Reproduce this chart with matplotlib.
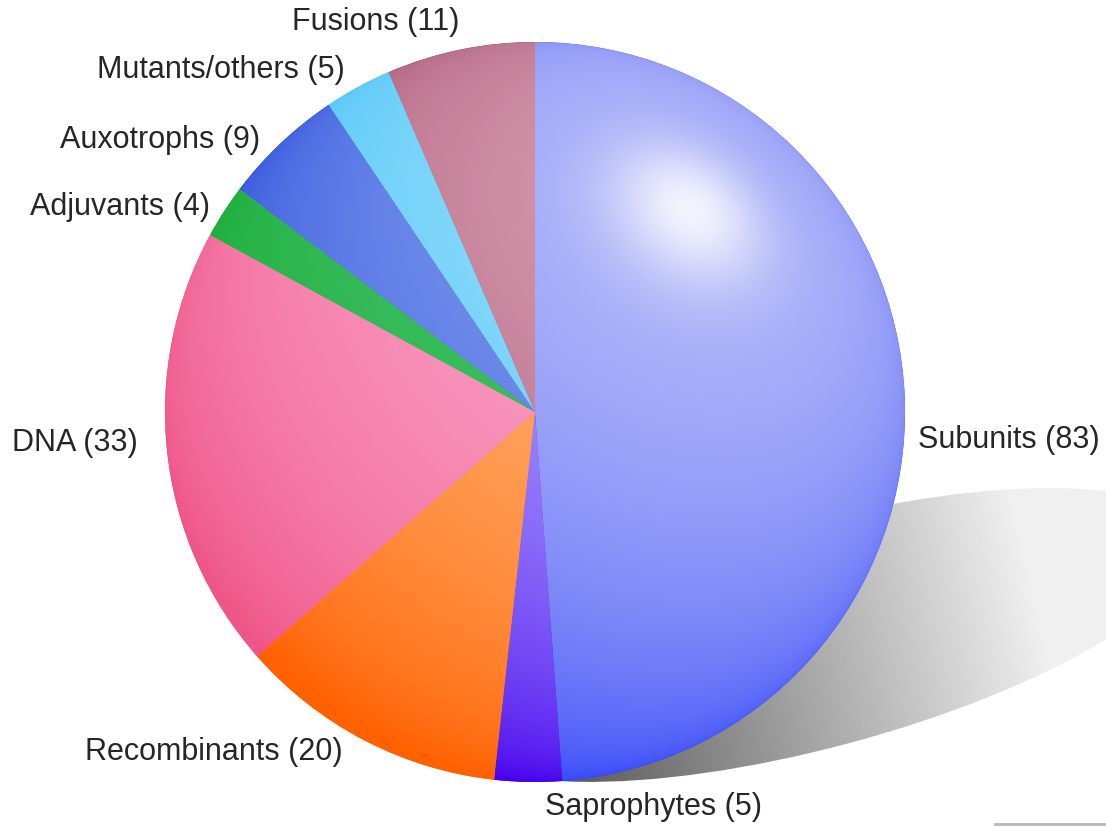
import numpy as np
import matplotlib.pyplot as plt
from matplotlib.patches import Ellipse
from matplotlib.colors import to_rgb

plt.rcParams['font.family'] = ['Liberation Sans', 'DejaVu Sans']

# vaccine types, clockwise from the top
labels = ["Subunits (83)", "Saprophytes (5)", "Recombinants (20)", "DNA (33)",
          "Adjuvants (4)", "Auxotrophs (9)", "Mutants/others (5)", "Fusions (11)"]
values = [83, 5, 20, 33, 4, 9, 5, 11]
dark_colors = ["#3547f8", "#4702ed", "#ff6000", "#ef5688",
               "#0ea72a", "#1438d8", "#28b4f6", "#8c2850"]
light_colors = ["#afb5f8", "#a99eff", "#ffaf6e", "#faa0c6",
                "#42c168", "#7c98ec", "#8cdcfa", "#d296aa"]

W, H = 1106, 827
fig = plt.figure(figsize=(W / 100, H / 100), dpi=100)
ax = fig.add_axes([0, 0, 1, 1])

cx, cy, r = 535, 415, 370
wedges, _ = ax.pie(values, center=(cx, cy), radius=r, startangle=90,
                   counterclock=False, colors=dark_colors,
                   wedgeprops=dict(linewidth=0), frame=True)

# sphere-like lighting, highlight up and to the right
n = 2 * r
X, Y = np.meshgrid(np.linspace(cx - r, cx + r, n), np.linspace(cy - r, cy + r, n))
nx = (X - cx) / r
ny = (Y - cy) / r
nz = np.sqrt(np.clip(1 - nx ** 2 - ny ** 2, 0, None))
light = np.array([0.419, 0.546, 0.726])
light /= np.linalg.norm(light)
dot = nx * light[0] + ny * light[1] + nz * light[2]
shade = np.clip((dot + 0.5) / 1.5, 0, 1)
spec = np.clip(dot, 0, 1) ** 40 * 0.85

for w, dc, lc in zip(wedges, dark_colors, light_colors):
    d = np.array(to_rgb(dc))
    l = np.array(to_rgb(lc))
    img = d + (l - d) * shade[..., None]
    img = img + (1 - img) * spec[..., None]
    im = ax.imshow(img, extent=(cx - r, cx + r, cy - r, cy + r), origin='lower',
                   zorder=2, interpolation='bilinear')
    im.set_clip_path(w)

# grey shadow behind the pie
shadow = Ellipse((820, 192), 768, 224, angle=15, facecolor='none', edgecolor='none')
ax.add_patch(shadow)
SX, SY = np.meshgrid(np.linspace(400, W, 400), np.linspace(0, 400, 200))
g = np.clip(0.38 + 0.55 * (SX - 590) / 480 + 0.08 * (SY - 45) / 300, 0.3, 0.94)
sh = ax.imshow(g, cmap='gray', vmin=0, vmax=1, extent=(400, W, 0, 400),
               origin='lower', zorder=0.5, interpolation='bilinear')
sh.set_clip_path(shadow)

# labels (left edge x, screen y)
label_pos = [(918, 440), (545, 807), (85, 752), (12, 443),
             (30, 207), (60, 140), (97, 70), (292, 22)]
for text, (lx, ly) in zip(labels, label_pos):
    ax.text(lx, H - ly, text, ha='left', va='center', fontsize=22, color='#262626')

ax.plot([995, W], [3, 3], color='#b8b8b8', lw=2)

ax.set_xlim(0, W)
ax.set_ylim(0, H)
ax.set_aspect('equal')
ax.axis('off')
fig.savefig('out.png', dpi=100)
